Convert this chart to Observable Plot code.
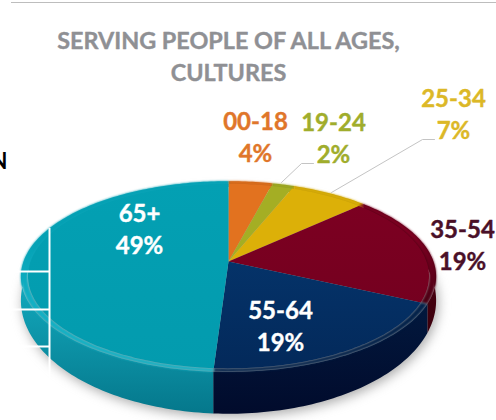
<!DOCTYPE html>
<html>
<head>
<meta charset="utf-8">
<script src="https://cdn.jsdelivr.net/npm/d3@7"></script>
<script src="https://cdn.jsdelivr.net/npm/@observablehq/plot@0.6"></script>
<style>
  html, body { margin: 0; padding: 0; background: #fff; }
  svg { display: block; }
</style>
</head>
<body>
<div id="chart"></div>
<script>
// Age groups served, clockwise from twelve o'clock
const ageGroups = ["00-18", "19-24", "25-34", "35-54", "55-64", "65+"];
const shares = [4, 2, 7, 19, 19, 49];

const faceTop = ["#e2721f", "#a4ae24", "#dcb008", "#7e0022", "#063a74", "#03a0b3"];
const faceLow = ["#e2721f", "#a4ae24", "#dcb008", "#70001e", "#03295a", "#039bae"];
const rimColor = ["#e2721f", "#a4ae24", "#dcb008", "#4c0014", "#03224a", "#12b0c4"];
const wallTop = ["#b85a14", "#84901c", "#b89306", "#45000f", "#021a40", "#12a6ba"];
const wallLow = ["#a04c10", "#707a14", "#9c7d05", "#2a0008", "#010b2c", "#05788c"];
const labelColors = ["#e0762a", "#a0ad2c", "#dcb827", "#4a1028", "#ffffff", "#ffffff"];

const labelX = [255, 333, 453, 462, 280, 139];
const labelY = [135.5, 136.5, 112, 243, 324, 227];

const titleText = "SERVING PEOPLE OF ALL AGES,\nCULTURES";
const leaders = [
  [{x: 281, y: 182}, {x: 301, y: 163}, {x: 313, y: 163}],
  [{x: 331, y: 192}, {x: 422, y: 139}, {x: 434, y: 139}]
];
const tableRows = [271, 309, 346];

// Discs of the drum, as perspective projections of a unit circle
const tilt = 0.158;
const face = {cx: 228, cy: 261, rx: 198, ry: 90};
const rim = {cx: 228, cy: 261, rx: 205, ry: 93};
const base = {cx: 228, cy: 282, rx: 205, ry: 110.5};

function project(d, a) {
  const u = Math.sin(a), v = -Math.cos(a), w = 1 - tilt * v;
  return {x: d.cx + d.rx * u / w, y: d.cy + d.ry * v / w};
}
function arc(d, a0, a1) {
  const n = Math.max(2, Math.ceil((a1 - a0) / 0.02));
  return d3.range(n + 1).map((i) => project(d, a0 + (a1 - a0) * i / n));
}

const slices = d3.pie().sort(null).startAngle(0).endAngle(2 * Math.PI)(shares);
const sector = (d, s) => [{x: d.cx, y: d.cy}, ...arc(d, s.startAngle, s.endAngle), {x: d.cx, y: d.cy}];
const band = (inner, outer, s) => [
  ...arc(inner, s.startAngle, s.endAngle),
  ...arc(outer, s.startAngle, s.endAngle).reverse()
];

const labels = ageGroups.map((g, i) => ({
  text: `${g}\n${shares[i]}%`, x: labelX[i], y: labelY[i], color: labelColors[i]
}));

const gradient = (id, c0, c1, y0, y1) => `<linearGradient id="${id}" gradientUnits="userSpaceOnUse" x1="0" x2="0" y1="${y0}" y2="${y1}"><stop offset="0" stop-color="${c0}"/><stop offset="1" stop-color="${c1}"/></linearGradient>`;

function defs() {
  const g = document.createElementNS("http://www.w3.org/2000/svg", "g");
  const parts = ageGroups.map((_, i) =>
    gradient(`face${i}`, faceTop[i], faceLow[i], 180, 370) +
    gradient(`rim${i}`, faceTop[i], rimColor[i], 235, 300) +
    gradient(`wall${i}`, wallTop[i], wallLow[i], 290, 412));
  g.innerHTML = `<defs>${parts.join("")}</defs>`;
  return g;
}

const line = (pts, o) => Plot.line(pts, {x: "x", y: "y", stroke: "none", ...o});
const fontFamily = "Lato, sans-serif";

const chart = Plot.plot({
  width: 496,
  height: 420,
  margin: 0,
  x: {domain: [0, 496], range: [0, 496], axis: null},
  y: {domain: [0, 420], range: [0, 420], axis: null},
  marks: [
    defs,
    // soft shadow under the drum
    line(arc({...base, cx: 230, cy: 285}, 0, 2 * Math.PI), {fill: "#8c8c8c", fillOpacity: 0.75, imageFilter: "blur(6px)"}),
    ...slices.map((s, i) => line(band(rim, base, s), {fill: `url(#wall${i})`})),
    ...slices.map((s, i) => line(band(face, rim, s), {fill: `url(#rim${i})`, imageFilter: "blur(1px)"})),
    ...slices.map((s, i) => line(sector(face, s), {fill: `url(#face${i})`})),
    // leftover table lines crossing the chart
    Plot.ruleY(tableRows, {x1: 0, x2: 49, stroke: "#fff", strokeWidth: 2}),
    Plot.ruleX([49], {y1: 228, y2: 383, stroke: "#fff", strokeWidth: 2}),
    Plot.ruleY([2], {x1: 11, x2: 496, stroke: "#bdbdbd", strokeWidth: 1}),
    ...leaders.map((l) => line(l, {stroke: "#c4c4c4", strokeWidth: 1})),
    Plot.text([titleText], {x: 228, y: 54, text: (d) => d, fill: "#8f9094", stroke: "#8f9094", strokeWidth: 0.4, fontSize: 23.4, fontWeight: 700, fontFamily, lineHeight: 1.37}),
    Plot.text(["N"], {x: 7, y: 161, text: (d) => d, textAnchor: "end", fill: "#000", fontSize: 22, fontWeight: 700, fontFamily}),
    Plot.text(labels, {x: "x", y: "y", text: "text", fill: "color", stroke: "color", strokeWidth: 0.4, fontSize: 24, fontWeight: 700, fontFamily, lineHeight: 1.33})
  ]
});
document.getElementById("chart").append(chart);
</script>
</body>
</html>
